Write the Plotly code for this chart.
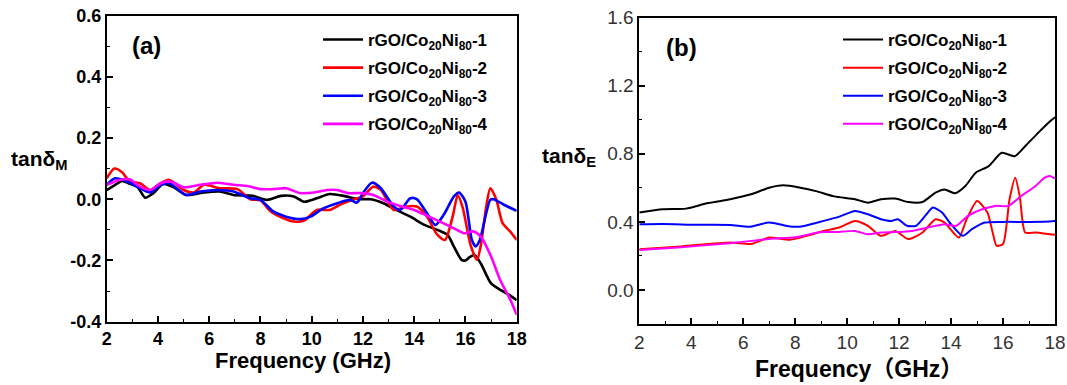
import plotly.graph_objects as go

# ---------------- data: panel (a) tan delta_M ----------------
a1_f = [2.0, 2.3, 2.6, 2.9, 3.2, 3.5, 3.8, 4.2, 4.6, 5.1, 5.8, 6.4, 6.95, 7.7, 8.25, 8.8, 9.3, 9.7, 10.2, 10.7,
        11.25, 11.8, 12.3, 12.8, 13.3, 13.85, 14.4, 14.9, 15.3, 15.55, 15.85, 16.0, 16.15, 16.35, 16.6, 17.0,
        17.4, 17.75, 18.0]
a1_v = [0.030, 0.045, 0.060, 0.050, 0.040, 0.005, 0.018, 0.050, 0.040, 0.014, 0.022, 0.025, 0.014, 0.011, -0.002,
        0.011, 0.009, -0.008, 0.003, 0.017, 0.011, 0.000, 0.000, -0.013, -0.035, -0.057, -0.084, -0.100, -0.116,
        -0.155, -0.198, -0.200, -0.190, -0.182, -0.210, -0.275, -0.298, -0.315, -0.330]

a2_f = [2.0, 2.3, 2.6, 2.9, 3.3, 3.7, 4.1, 4.45, 5.0, 5.4, 5.8, 6.4, 7.1, 7.6, 8.0, 8.4, 8.9, 9.3, 9.7, 10.2,
        10.7, 11.1, 11.6, 12.0, 12.4, 12.7, 13.2, 13.7, 14.1, 14.5, 14.9, 15.2, 15.5, 15.7, 15.9, 16.2, 16.45,
        16.6, 16.8, 16.97, 17.2, 17.45, 17.75, 18.0]
a2_v = [0.068, 0.100, 0.088, 0.058, 0.052, 0.030, 0.052, 0.063, 0.030, 0.022, 0.047, 0.036, 0.033, 0.000, -0.004,
        -0.040, -0.062, -0.073, -0.070, -0.035, -0.035, -0.018, -0.002, 0.009, 0.041, 0.030, -0.035, -0.024,
        -0.024, -0.057, -0.116, -0.133, -0.057, 0.014, -0.030, -0.150, -0.198, -0.150, -0.030, 0.036, 0.000,
        -0.078, -0.106, -0.133]

a3_f = [2.0, 2.3, 2.8, 3.3, 3.7, 4.1, 4.45, 5.1, 5.65, 6.3, 6.95, 7.6, 8.0, 8.5, 9.0, 9.55, 9.95, 10.45, 11.0,
        11.5, 11.77, 12.0, 12.35, 12.7, 13.2, 13.45, 13.85, 14.1, 14.5, 14.83, 15.15, 15.55, 15.75, 16.0, 16.25,
        16.4, 16.56, 16.97, 17.1, 17.5, 18.0]
a3_v = [0.047, 0.068, 0.058, 0.036, 0.022, 0.047, 0.052, 0.014, 0.025, 0.030, 0.025, 0.003, -0.002, -0.040,
        -0.057, -0.065, -0.057, -0.030, -0.013, -0.002, -0.011, 0.020, 0.054, 0.036, -0.024, -0.035, 0.003,
        0.000, -0.046, -0.084, -0.051, 0.009, 0.022, -0.008, -0.133, -0.154, -0.133, -0.002, 0.000, -0.018,
        -0.038]

a4_f = [2.0, 2.5, 2.9, 3.3, 3.7, 4.1, 4.5, 5.0, 5.65, 6.3, 6.95, 7.5, 8.0, 8.5, 9.0, 9.55, 10.1, 10.6, 11.0,
        11.4, 11.9, 12.4, 12.95, 13.45, 14.0, 14.5, 15.0, 15.55, 15.95, 16.3, 16.6, 17.0, 17.35, 17.75, 18.0]
a4_v = [0.047, 0.063, 0.065, 0.041, 0.030, 0.052, 0.058, 0.039, 0.047, 0.054, 0.047, 0.043, 0.033, 0.033, 0.036,
        0.020, 0.022, 0.030, 0.030, 0.020, 0.020, 0.014, -0.008, -0.022, -0.035, -0.054, -0.073, -0.095, -0.111,
        -0.105, -0.122, -0.187, -0.263, -0.328, -0.377]

# ---------------- data: panel (b) tan delta_E ----------------
b1_f = [2.0, 2.9, 3.8, 4.6, 5.5, 6.3, 7.0, 7.55, 8.2, 8.8, 9.5, 10.3, 10.8, 11.3, 11.85, 12.35, 12.9, 13.4,
        13.75, 14.15, 14.55, 14.95, 15.45, 15.95, 16.45, 16.85, 17.35, 17.8, 18.0]
b1_v = [0.455, 0.474, 0.478, 0.509, 0.533, 0.562, 0.601, 0.615, 0.601, 0.581, 0.550, 0.533, 0.513, 0.533, 0.537,
        0.517, 0.517, 0.572, 0.591, 0.568, 0.611, 0.689, 0.728, 0.806, 0.786, 0.845, 0.923, 0.990, 1.015]

b2_f = [2.0, 3.6, 5.5, 6.3, 7.0, 7.8, 8.45, 9.1, 9.7, 10.3, 10.8, 11.3, 11.85, 12.35, 12.9, 13.4, 13.75, 14.3,
        14.6, 15.0, 15.4, 15.6, 15.75, 16.0, 16.25, 16.47, 16.65, 16.85, 17.25, 17.8, 18.0]
b2_v = [0.240, 0.256, 0.279, 0.270, 0.308, 0.295, 0.318, 0.347, 0.367, 0.406, 0.377, 0.318, 0.347, 0.299, 0.338,
        0.416, 0.396, 0.308, 0.416, 0.523, 0.455, 0.338, 0.260, 0.270, 0.533, 0.660, 0.543, 0.338, 0.338, 0.328,
        0.325]

b3_f = [2.0, 2.9, 4.2, 5.5, 6.25, 7.0, 7.8, 8.3, 9.1, 9.7, 10.3, 10.8, 11.3, 11.7, 11.95, 12.3, 12.65, 13.0,
        13.3, 13.65, 14.0, 14.45, 14.8, 15.3, 15.95, 17.0, 17.8, 18.0]
b3_v = [0.386, 0.388, 0.383, 0.382, 0.371, 0.396, 0.373, 0.375, 0.406, 0.431, 0.464, 0.445, 0.416, 0.406, 0.416,
        0.377, 0.377, 0.435, 0.484, 0.455, 0.386, 0.318, 0.357, 0.396, 0.400, 0.400, 0.402, 0.405]

b4_f = [2.0, 3.5, 5.5, 7.0, 8.0, 9.0, 9.5, 10.3, 10.8, 11.3, 11.85, 12.5, 13.1, 13.75, 14.2, 14.65, 15.2, 15.7,
        16.2, 16.7, 17.25, 17.6, 17.8, 18.0]
b4_v = [0.235, 0.250, 0.275, 0.300, 0.310, 0.340, 0.340, 0.347, 0.327, 0.338, 0.340, 0.347, 0.367, 0.386, 0.377,
        0.435, 0.474, 0.494, 0.494, 0.552, 0.611, 0.660, 0.670, 0.655]

names = ["rGO/Co<sub>20</sub>Ni<sub>80</sub>-1", "rGO/Co<sub>20</sub>Ni<sub>80</sub>-2",
         "rGO/Co<sub>20</sub>Ni<sub>80</sub>-3", "rGO/Co<sub>20</sub>Ni<sub>80</sub>-4"]
colors = ["#000000", "#ff0000", "#0000ff", "#ff00ff"]

x_ticks = [2, 4, 6, 8, 10, 12, 14, 16, 18]
ya_ticks = [-0.4, -0.2, 0.0, 0.2, 0.4, 0.6]
ya_text = ["-0.4", "-0.2", "0.0", "0.2", "0.4", "0.6"]
yb_ticks = [0.0, 0.4, 0.8, 1.2, 1.6]
yb_text = ["0.0", "0.4", "0.8", "1.2", "1.6"]

FONT = "Arial, Liberation Sans, sans-serif"

fig = go.Figure()
series_a = [(a1_f, a1_v), (a2_f, a2_v), (a3_f, a3_v), (a4_f, a4_v)]
series_b = [(b1_f, b1_v), (b2_f, b2_v), (b3_f, b3_v), (b4_f, b4_v)]
for i, (f, v) in enumerate(series_a):
    fig.add_trace(go.Scatter(x=f, y=v, mode="lines", name=names[i], xaxis="x", yaxis="y",
                             line=dict(color=colors[i], width=2.6, shape="spline", smoothing=0.7),
                             legend="legend", legendgroup="a%d" % i))
for i, (f, v) in enumerate(series_b):
    fig.add_trace(go.Scatter(x=f, y=v, mode="lines", name=names[i], xaxis="x2", yaxis="y2",
                             line=dict(color=colors[i], width=2.0, shape="spline", smoothing=0.6),
                             legend="legend2", legendgroup="b%d" % i))

W, H = 1067, 385
ax_common = dict(showgrid=False, zeroline=False, showline=True, linecolor="black", linewidth=1.6,
                 mirror=True, ticks="inside", tickcolor="black", tickwidth=1.5, ticklen=6)

fig.update_layout(
    width=W, height=H, margin=dict(l=0, r=0, t=0, b=0, autoexpand=False),
    paper_bgcolor="white", plot_bgcolor="white",
    xaxis=dict(domain=[106.7 / W, 516.7 / W], range=[2, 18], tickvals=x_ticks, anchor="y",
               minor=dict(ticks="inside", ticklen=3, dtick=1, tickcolor="black", tickwidth=1.3),
               tickfont=dict(family=FONT, size=18, color="black", weight="bold"), **ax_common),
    yaxis=dict(domain=[1 - 321.7 / H, 1 - 15.5 / H], range=[-0.4, 0.6], tickvals=ya_ticks, ticktext=ya_text,
               anchor="x",
               minor=dict(ticks="inside", ticklen=3, dtick=0.1, tickcolor="black", tickwidth=1.3),
               tickfont=dict(family=FONT, size=18, color="black", weight="bold"), **ax_common),
    xaxis2=dict(domain=[639.3 / W, 1055 / W], range=[2, 18], tickvals=x_ticks, anchor="y2",
                minor=dict(ticks="inside", ticklen=3, dtick=1, tickcolor="black", tickwidth=1.3),
                tickfont=dict(family=FONT, size=19, color="#333333"), **ax_common),
    yaxis2=dict(domain=[1 - 324 / H, 1 - 17.7 / H], range=[-0.2, 1.6], tickvals=yb_ticks, ticktext=yb_text,
                anchor="x2",
                minor=dict(ticks="inside", ticklen=3, dtick=0.2, tickcolor="black", tickwidth=1.3),
                tickfont=dict(family=FONT, size=19, color="#333333"), **ax_common),
    legend=dict(x=318 / W, y=1 - 22 / H, xanchor="left", yanchor="top", bgcolor="rgba(0,0,0,0)",
                font=dict(family=FONT, size=17, color="black", weight="bold"), itemwidth=40,
                tracegroupgap=3),
    legend2=dict(x=838 / W, y=1 - 22 / H, xanchor="left", yanchor="top", bgcolor="rgba(0,0,0,0)",
                 font=dict(family=FONT, size=17, color="black", weight="bold"), itemwidth=40,
                 tracegroupgap=3),
    showlegend=True,
)

annotations = [
    dict(text="<b>(a)</b>", x=146 / W, y=1 - 45 / H, font=dict(family=FONT, size=24, color="black")),
    dict(text="<b>(b)</b>", x=681 / W, y=1 - 47 / H, font=dict(family=FONT, size=24, color="black")),
    dict(text="<b>Frequency (GHz)</b>", x=303 / W, y=1 - 360 / H, font=dict(family=FONT, size=22, color="black")),
    dict(text="<b>Frequency（GHz）</b>", x=859 / W, y=1 - 369 / H,
         font=dict(family="Arial, Noto Sans CJK SC, sans-serif", size=23, color="black")),
    dict(text="<b>tanδ<sub>M</sub></b>", x=39 / W, y=1 - 160 / H, font=dict(family=FONT, size=21, color="black")),
    dict(text="<b>tanδ<sub>E</sub></b>", x=569 / W, y=1 - 157 / H, font=dict(family=FONT, size=21, color="black")),
]
for a in annotations:
    a.update(xref="paper", yref="paper", showarrow=False, xanchor="center", yanchor="middle")
fig.update_layout(annotations=annotations)

fig.write_html("out.html", config={"displayModeBar": False},
               post_script="document.body.style.margin='0';document.body.style.overflow='hidden';")
